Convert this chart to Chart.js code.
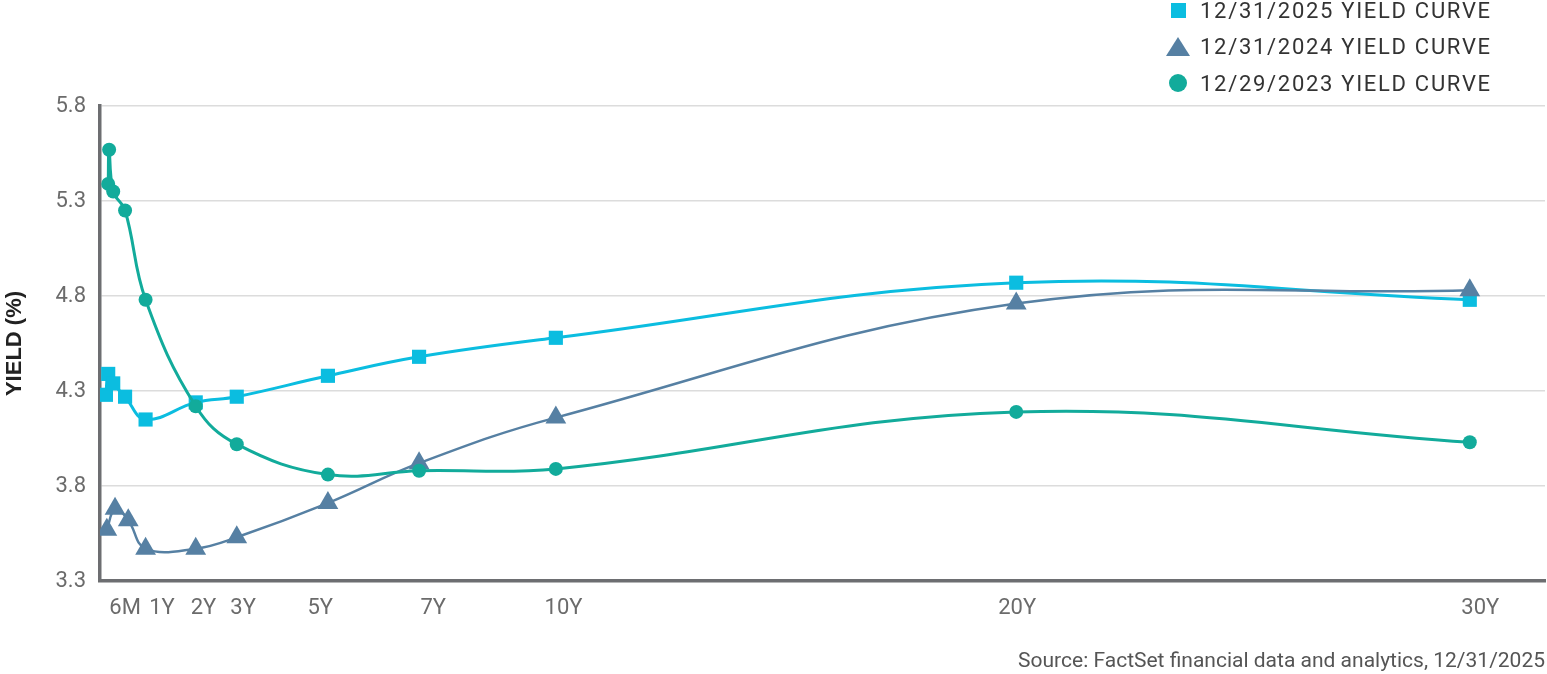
<!DOCTYPE html>
<html>
<head>
<meta charset="utf-8">
<script src="https://cdn.jsdelivr.net/npm/chart.js@4.4.1/dist/chart.umd.min.js"></script>
<style>
  html, body { margin: 0; padding: 0; background: #fff; }
  #wrap { position: relative; width: 1547px; height: 674px; }
  #legend {
    position: absolute; top: -8px; left: 1164px;
    font-family: Roboto, sans-serif; font-size: 22px; color: #333; letter-spacing: 1.7px;
  }
  .item { height: 36.5px; display: flex; align-items: center; }
  .mk { width: 28px; margin-right: 8px; display: flex; justify-content: center; }
  .sq { width: 15px; height: 15px; background: #0bbde0; }
  .tri { width: 0; height: 0; border-left: 12px solid transparent; border-right: 12px solid transparent; border-bottom: 19px solid #5680a3; }
  .dot { width: 18px; height: 18px; border-radius: 50%; background: #12ab9b; }
</style>
</head>
<body>
<div id="wrap">
  <canvas id="myChart" width="1547" height="674"></canvas>
  <div id="legend"></div>
</div>
<script>
// series names (as in the legend)
const seriesLabels = ['12/31/2025 YIELD CURVE', '12/31/2024 YIELD CURVE', '12/29/2023 YIELD CURVE'];

const maturities2025 = [0.13, 0.18, 0.29, 0.55, 1, 2.1, 3, 5, 7, 10, 20.1, 30.05];
const yields2025 = [4.28, 4.39, 4.34, 4.27, 4.15, 4.24, 4.27, 4.38, 4.48, 4.58, 4.87, 4.78];

const maturities2024 = [0.15, 0.33, 0.62, 1, 2.1, 3, 5, 7, 10, 20.1, 30.05];
const yields2024 = [3.57, 3.68, 3.62, 3.47, 3.47, 3.53, 3.71, 3.92, 4.16, 4.76, 4.83];

const maturities2023 = [0.18, 0.2, 0.29, 0.55, 1, 2.1, 3, 5, 7, 10, 20.1, 30.05];
const yields2023 = [5.39, 5.57, 5.35, 5.25, 4.78, 4.22, 4.02, 3.86, 3.88, 3.89, 4.19, 4.03];

// x axis labels and where they sit on the axis (in years)
const tickLabels = ['6M', '1Y', '2Y', '3Y', '5Y', '7Y', '10Y', '20Y', '30Y'];
const tickPositions = [0.55, 1.36, 2.27, 3.14, 4.83, 7.31, 10.17, 20.12, 30.28];

const colors = ['#0bbde0', '#5680a3', '#12ab9b'];
const pointStyles = ['rect', 'triangle', 'circle'];

function toPoints(xs, ys) {
  return xs.map((x, i) => ({ x: x, y: ys[i] }));
}

const ctx = document.getElementById('myChart');
const myChart = new Chart(ctx, {
  type: 'line',
  data: {
    datasets: [
      {
        label: seriesLabels[0],
        data: toPoints(maturities2025, yields2025),
        borderColor: colors[0], backgroundColor: colors[0],
        borderWidth: 3, pointStyle: pointStyles[0], pointRadius: 10, pointBorderWidth: 0,
        order: 2
      },
      {
        label: seriesLabels[1],
        data: toPoints(maturities2024, yields2024),
        borderColor: colors[1], backgroundColor: colors[1],
        borderWidth: 2.5, pointStyle: pointStyles[1], pointRadius: 12, pointBorderWidth: 0,
        order: 1
      },
      {
        label: seriesLabels[2],
        data: toPoints(maturities2023, yields2023),
        borderColor: colors[2], backgroundColor: colors[2],
        borderWidth: 3, pointStyle: pointStyles[2], pointRadius: 7, pointBorderWidth: 0,
        order: 0
      }
    ]
  },
  options: {
    responsive: false,
    animation: false,
    tension: 0.4,
    layout: { autoPadding: false, padding: { top: 106, right: 2, bottom: 0, left: 0 } },
    plugins: {
      legend: { display: false },
      tooltip: { enabled: false },
      title: {
        display: true,
        text: 'Source: FactSet financial data and analytics, 12/31/2025',
        position: 'bottom',
        align: 'end',
        color: '#555',
        font: { family: 'Roboto', size: 21, weight: 'normal' },
        padding: { top: 0, bottom: 0 }
      }
    },
    scales: {
      x: {
        type: 'linear',
        min: 0,
        max: 31.7,
        grid: { display: false, drawTicks: false },
        border: { color: '#6d6e71', width: 3.5 },
        afterBuildTicks: (scale) => { scale.ticks = tickPositions.map(v => ({ value: v })); },
        afterFit: (scale) => {
          scale.height = 67.8;
          scale.paddingLeft = 0;
          scale.paddingRight = 0;
        },
        ticks: {
          autoSkip: false,
          maxRotation: 0,
          padding: 14,
          color: '#6b6b6b',
          font: { family: 'Roboto', size: 22 },
          callback: (value) => tickLabels[tickPositions.indexOf(value)]
        }
      },
      y: {
        min: 3.3,
        max: 5.8,
        grid: { color: '#dcdcdc', lineWidth: 1.5, drawTicks: false },
        border: { color: '#6d6e71', width: 3.5 },
        afterFit: (scale) => { scale.width = 100; },
        ticks: {
          stepSize: 0.5,
          padding: 14,
          color: '#6b6b6b',
          font: { family: 'Roboto', size: 22 },
          callback: (value) => value.toFixed(1)
        },
        title: {
          display: true,
          text: 'YIELD (%)',
          color: '#222',
          font: { family: "'Liberation Sans', Arial, sans-serif", size: 22, weight: 'bold' },
          padding: { top: 2, bottom: 0 }
        }
      }
    }
  }
});

// legend in the top right corner
const legendEl = document.getElementById('legend');
const markerClass = ['sq', 'tri', 'dot'];
seriesLabels.forEach((label, i) => {
  const row = document.createElement('div');
  row.className = 'item';
  row.innerHTML = '<span class="mk"><span class="' + markerClass[i] + '"></span></span><span>' + label + '</span>';
  legendEl.appendChild(row);
});
</script>
</body>
</html>
